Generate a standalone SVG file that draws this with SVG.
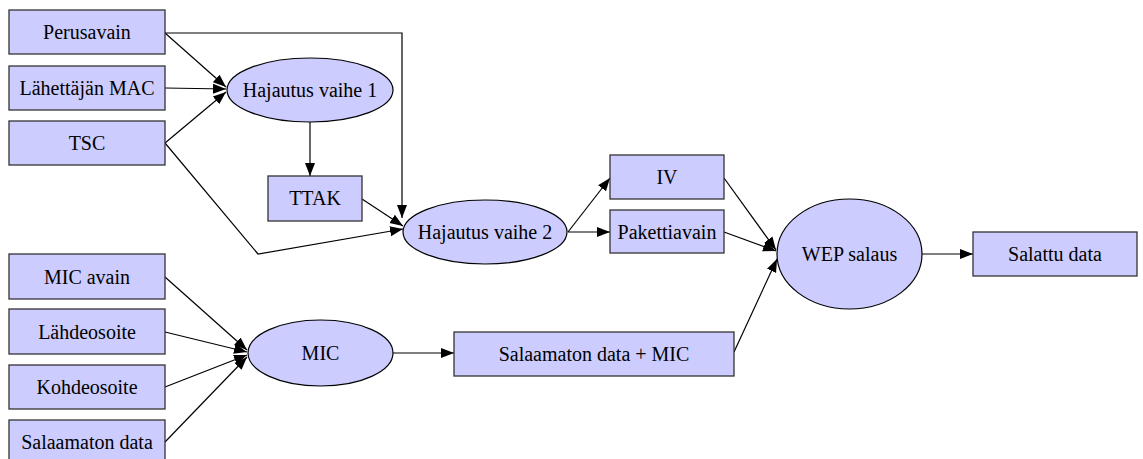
<svg xmlns="http://www.w3.org/2000/svg" width="1143" height="459" viewBox="0 0 1143 459">
  <style>
    .box { fill: #ccccff; stroke: #333333; stroke-width: 1.3; }
    .oval { fill: #ccccff; stroke: #000000; stroke-width: 1.2; }
    text { font-family: "Liberation Serif", "Times New Roman", Times, serif; font-size: 20px; fill: #000000; text-anchor: middle; }
    .edge { fill: none; stroke: #000000; stroke-width: 1.2; marker-end: url(#arrow); }
  </style>
  <defs>
    <marker id="arrow" markerUnits="userSpaceOnUse" viewBox="0 0 13 12" refX="13" refY="6" markerWidth="13" markerHeight="12" orient="auto">
      <path d="M0,1 L13,6 L0,11 Z" fill="#000000"/>
    </marker>
  </defs>
  <rect width="1143" height="459" fill="#ffffff"/>

  <!-- connectors -->
  <g id="edges">
    <path class="edge" d="M165,33 L226,87"/>
    <path class="edge" d="M165,88 L226,89"/>
    <path class="edge" d="M165,143 L226,92"/>
    <path class="edge" d="M165,33 L402,33 L402,218"/>
    <path class="edge" d="M310,122 L310,176"/>
    <path class="edge" d="M362,199 L403,226"/>
    <path class="edge" d="M165,143 L258,254 L403,229"/>
    <path class="edge" d="M568,232 L610,178"/>
    <path class="edge" d="M568,232 L610,232"/>
    <path class="edge" d="M724,178 L776,250"/>
    <path class="edge" d="M724,232 L776,251"/>
    <path class="edge" d="M734,352 L777,259"/>
    <path class="edge" d="M922,254 L973,254"/>
    <path class="edge" d="M165,277 L247,350"/>
    <path class="edge" d="M165,332 L247,352"/>
    <path class="edge" d="M165,387 L247,355"/>
    <path class="edge" d="M165,442 L247,357"/>
    <path class="edge" d="M393,353 L454,353"/>
  </g>

  <g id="perusavain">
    <rect class="box" x="9" y="10" width="156" height="44"/>
    <text x="87" y="39" font-family="Liberation Serif">Perusavain</text>
  </g>
  <g id="lahettajan-mac">
    <rect class="box" x="9" y="66" width="156" height="44"/>
    <text x="87" y="95" font-family="Liberation Serif">Lähettäjän MAC</text>
  </g>
  <g id="tsc">
    <rect class="box" x="9" y="121" width="156" height="44"/>
    <text x="87" y="150" font-family="Liberation Serif">TSC</text>
  </g>
  <g id="hajautus-1">
    <ellipse class="oval" cx="310" cy="90" rx="83" ry="32"/>
    <text x="310" y="97" font-family="Liberation Serif">Hajautus vaihe 1</text>
  </g>
  <g id="ttak">
    <rect class="box" x="268" y="176" width="94" height="45"/>
    <text x="315" y="205" font-family="Liberation Serif">TTAK</text>
  </g>
  <g id="hajautus-2">
    <ellipse class="oval" cx="485" cy="232" rx="82" ry="32"/>
    <text x="485" y="239" font-family="Liberation Serif">Hajautus vaihe 2</text>
  </g>
  <g id="iv">
    <rect class="box" x="610" y="155" width="114" height="44"/>
    <text x="667" y="184" font-family="Liberation Serif">IV</text>
  </g>
  <g id="pakettiavain">
    <rect class="box" x="610" y="210" width="114" height="43"/>
    <text x="667" y="239" font-family="Liberation Serif">Pakettiavain</text>
  </g>
  <g id="wep-salaus">
    <ellipse class="oval" cx="849.5" cy="254" rx="72.5" ry="55"/>
    <text x="849.5" y="261" font-family="Liberation Serif">WEP salaus</text>
  </g>
  <g id="salattu-data">
    <rect class="box" x="973" y="232" width="164" height="44"/>
    <text x="1055" y="261" font-family="Liberation Serif">Salattu data</text>
  </g>
  <g id="mic-avain">
    <rect class="box" x="9" y="254" width="156" height="45"/>
    <text x="87" y="284" font-family="Liberation Serif">MIC avain</text>
  </g>
  <g id="lahdeosoite">
    <rect class="box" x="9" y="309" width="156" height="45"/>
    <text x="87" y="339" font-family="Liberation Serif">Lähdeosoite</text>
  </g>
  <g id="kohdeosoite">
    <rect class="box" x="9" y="365" width="156" height="44"/>
    <text x="87" y="394" font-family="Liberation Serif">Kohdeosoite</text>
  </g>
  <g id="salaamaton-data">
    <rect class="box" x="9" y="420" width="156" height="44"/>
    <text x="87" y="449" font-family="Liberation Serif">Salaamaton data</text>
  </g>
  <g id="mic">
    <ellipse class="oval" cx="320.5" cy="353" rx="72.5" ry="33"/>
    <text x="320.5" y="360" font-family="Liberation Serif">MIC</text>
  </g>
  <g id="salaamaton-data-mic">
    <rect class="box" x="454" y="332" width="280" height="44"/>
    <text x="594" y="361" font-family="Liberation Serif">Salaamaton data + MIC</text>
  </g>
</svg>
